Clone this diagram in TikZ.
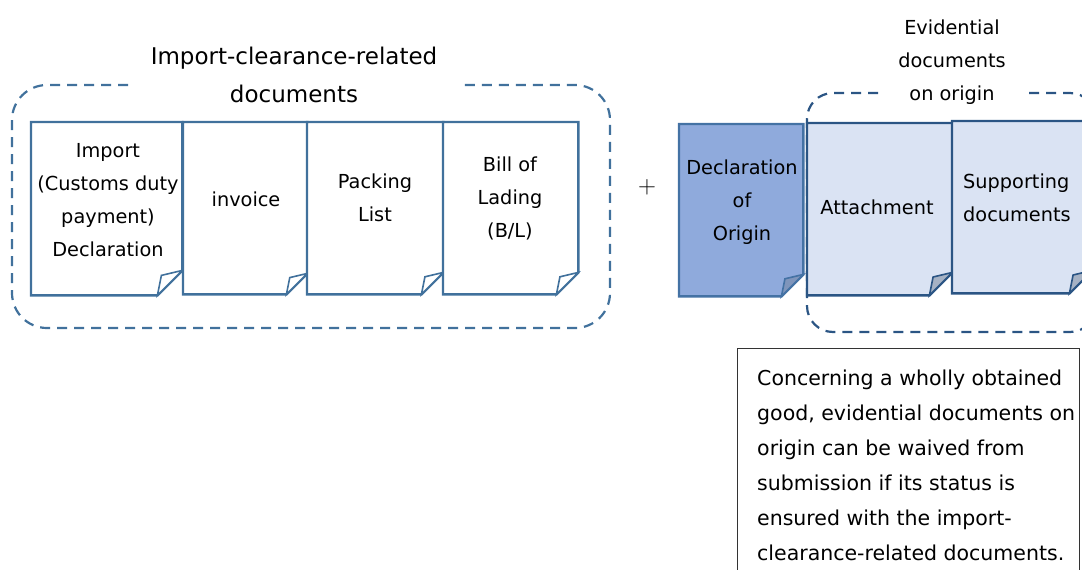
\documentclass[tikz,border=0pt]{standalone}
\usepackage{fontspec}
\setmainfont{DejaVu Sans}
\definecolor{lblue}{HTML}{41719C}
\definecolor{dblue}{HTML}{2B5584}
\definecolor{declfill}{HTML}{8FAADC}
\definecolor{declline}{HTML}{4472A4}
\definecolor{evfill}{HTML}{DAE3F3}
\definecolor{foldgray}{HTML}{A6B2C4}
\definecolor{folddecl}{HTML}{7F95BB}
\newcommand\drawdoc[4]{%
  \draw[#3] (#1.north west) -- (#1.north east) -- ([yshift=#2 pt]#1.south east)
    -- ([xshift=-#2 pt]#1.south east) -- (#1.south west) -- cycle;
  \draw[#3, fill=#4, line width=1.6pt] ([xshift=-#2 pt]#1.south east)
    -- ([xshift={-0.84*#2 pt}, yshift={0.8*#2 pt}]#1.south east)
    -- ([yshift=#2 pt]#1.south east) -- cycle;
}
\tikzset{
  docbox/.style={rectangle, inner sep=0pt, anchor=north west, draw=none},
  lefdoc/.style={draw=lblue, fill=white, line width=2.4pt, line join=miter},
  decldoc/.style={draw=declline, fill=declfill, line width=2.4pt, line join=miter},
  evdoc/.style={draw=dblue, fill=evfill, line width=2.4pt, line join=miter},
  doctext/.style={align=center, inner sep=0pt, font=\fontsize{19.3}{33}\selectfont},
  grp/.style={dash pattern=on 10pt off 7pt, line width=2.2pt, rounded corners=#1},
  heading/.style={align=center, inner sep=0pt},
}
\begin{document}
\begin{tikzpicture}[x=1pt,y=-1pt]
\useasboundingbox (0,0) rectangle (1082,570);
\clip (0,0) rectangle (1082,570);

% left group
\draw[grp=35, draw=lblue] (128,85) -- (12,85) -- (12,328) -- (610,328) -- (610,85) -- (461,85);
\node[heading, font=\fontsize{23}{38}\selectfont] (title) at (294,75) {Import-clearance-related\\documents};

\node[docbox, minimum width=151pt, minimum height=173pt] (imp) at (31,122) {};
\node[docbox, minimum width=124pt, minimum height=172pt] (inv) at (183,122) {};
\node[docbox, minimum width=136pt, minimum height=172pt] (pack) at (307,122) {};
\node[docbox, minimum width=135pt, minimum height=172pt] (bl) at (443,122) {};
\drawdoc{imp}{25}{lefdoc}{white}
\drawdoc{inv}{21}{lefdoc}{white}
\drawdoc{pack}{22}{lefdoc}{white}
\drawdoc{bl}{22}{lefdoc}{white}
\node[doctext] (impt) at (108,200) {Import\\(Customs duty\\payment)\\Declaration};
\node[doctext] (invt) at (246,199) {invoice};
\node[doctext] (packt) at (375,197.5) {Packing\\List};
\node[doctext] (blt) at (510,198.5) {Bill of\\Lading\\(B/L)};

\node[inner sep=0pt, font=\fontsize{27}{27}\selectfont] (plus) at (647,187) {$+$};

% right group
\draw[grp=26, draw=dblue] (878,93) -- (807,93) -- (807,332) -- (1096,332) -- (1096,93) -- (1026,93);
\node[heading, font=\fontsize{19.3}{33}\selectfont] (evh) at (952,62) {Evidential\\documents\\on origin};

\node[docbox, minimum width=124pt, minimum height=172pt] (decl) at (679,124) {};
\node[docbox, minimum width=145pt, minimum height=172pt] (att) at (807,123) {};
\node[docbox, minimum width=140pt, minimum height=172pt] (sup) at (952,121) {};
\drawdoc{decl}{22}{decldoc}{folddecl}
\drawdoc{att}{23}{evdoc}{foldgray}
\drawdoc{sup}{23}{evdoc}{foldgray}
\node[doctext] (declt) at (742,202.5) {Declaration\\of\\Origin};
\node[doctext] (attt) at (877,207) {Attachment};
\node[doctext, align=left, anchor=west] (supt) at (963,197.5) {Supporting\\documents};

% note
\node[docbox, draw=black!80, line width=1pt, minimum width=342pt, minimum height=260pt] (note) at (737,348) {};
\node[inner sep=0pt, align=left, anchor=west, font=\fontsize{20.5}{35}\selectfont] (notet) at (757,465)
  {Concerning a wholly obtained\\good, evidential documents on\\origin can be waived from\\submission if its status is\\ensured with the import-\\clearance-related documents.};
\end{tikzpicture}
\end{document}
